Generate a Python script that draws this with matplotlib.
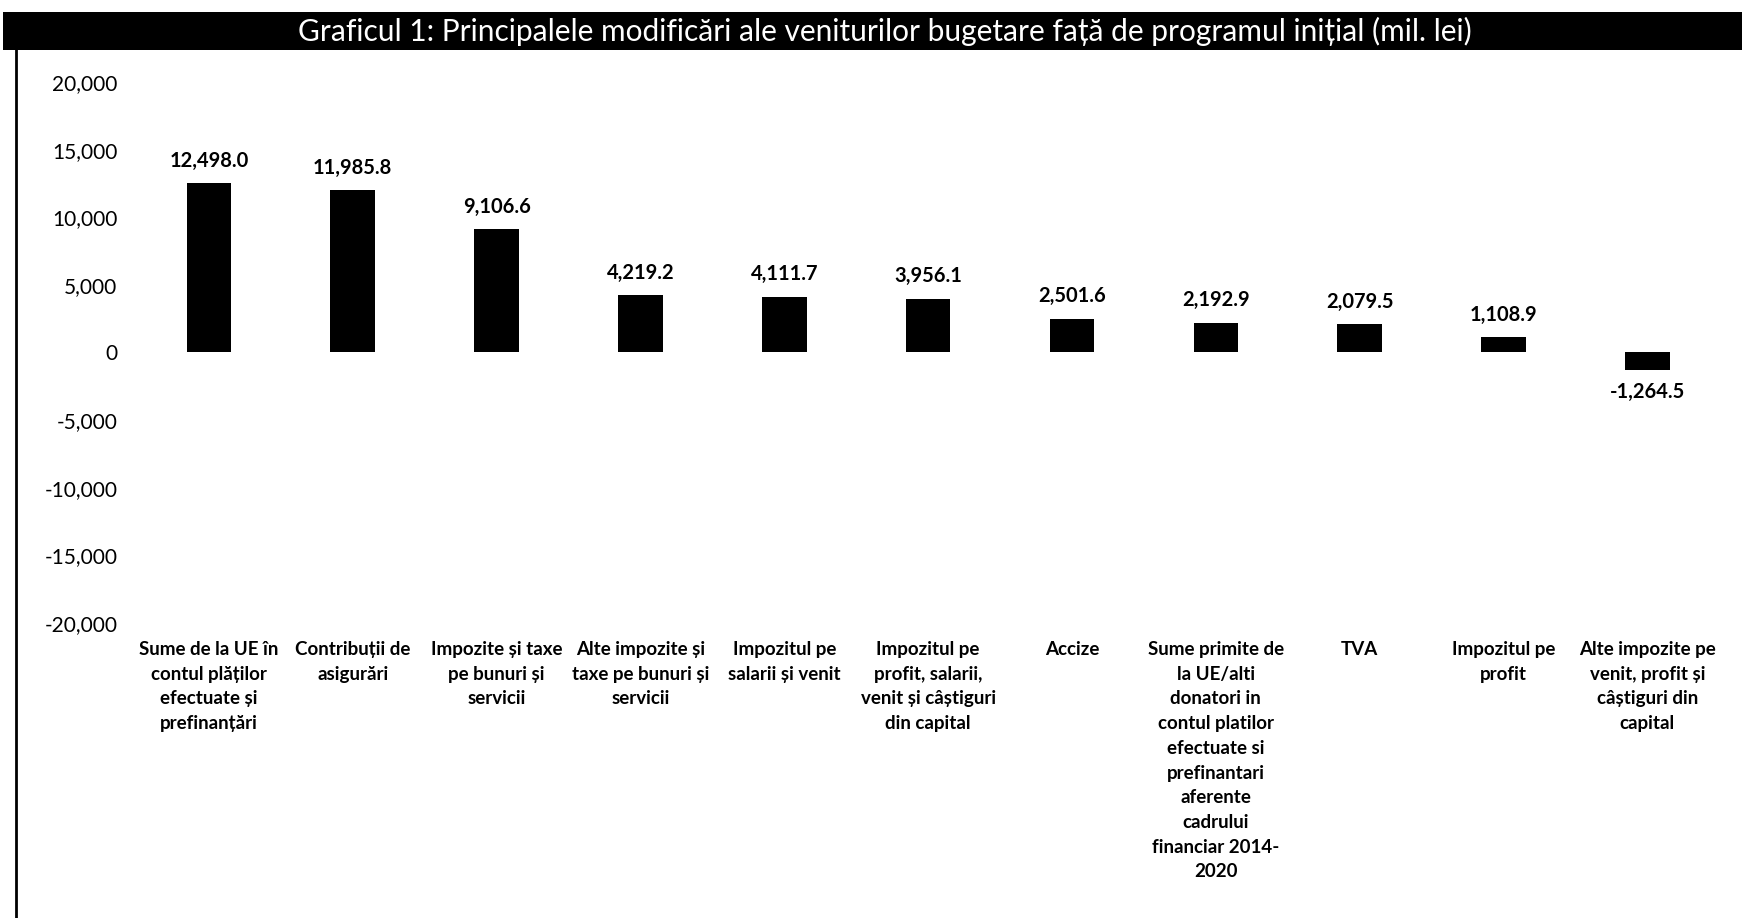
import matplotlib
matplotlib.use("Agg")
import matplotlib.pyplot as plt
from matplotlib.patches import Rectangle
from matplotlib.lines import Line2D
from matplotlib.ticker import FuncFormatter

plt.rcParams['font.family'] = ['Lato', 'DejaVu Sans']

categories = [
    "Sume de la UE în\ncontul plăților\nefectuate și\nprefinanțări",
    "Contribuții de\nasigurări",
    "Impozite și taxe\npe bunuri și\nservicii",
    "Alte impozite și\ntaxe pe bunuri și\nservicii",
    "Impozitul pe\nsalarii și venit",
    "Impozitul pe\nprofit, salarii,\nvenit și câștiguri\ndin capital",
    "Accize",
    "Sume primite de\nla UE/alti\ndonatori in\ncontul platilor\nefectuate si\nprefinantari\naferente\ncadrului\nfinanciar 2014-\n2020",
    "TVA",
    "Impozitul pe\nprofit",
    "Alte impozite pe\nvenit, profit și\ncâștiguri din\ncapital",
]
values = [12498.0, 11985.8, 9106.6, 4219.2, 4111.7, 3956.1, 2501.6, 2192.9, 2079.5, 1108.9, -1264.5]
yticks = [-20000, -15000, -10000, -5000, 0, 5000, 10000, 15000, 20000]
title = "Graficul 1: Principalele modificări ale veniturilor bugetare față de programul inițial (mil. lei)"

fig = plt.figure(figsize=(17.42, 9.18), dpi=100)
ax = fig.add_axes([0.0786, 0.3214, 0.9084, 0.5893])

x = list(range(len(values)))
ax.bar(x, values, width=0.31, color='black')

for xi, v in zip(x, values):
    txt = f"{v:,.1f}"
    if v >= 0:
        ax.annotate(txt, (xi, v), xytext=(0, 9), textcoords='offset points',
                    ha='center', va='bottom', fontsize=14.5, fontweight='bold')
    else:
        ax.annotate(txt, (xi, v), xytext=(0, -9), textcoords='offset points',
                    ha='center', va='top', fontsize=14.5, fontweight='bold')

ax.set_xlim(-0.5, len(values) - 0.5)
ax.set_ylim(-20000, 20000)
ax.set_yticks(yticks)
ax.yaxis.set_major_formatter(FuncFormatter(lambda v, p: f"{v:,.0f}"))
ax.tick_params(axis='y', length=0, labelsize=15, pad=14)
ax.set_xticks(x)
ax.set_xticklabels(categories, fontsize=13.5, fontweight='bold', linespacing=1.55)
ax.tick_params(axis='x', length=0, pad=13)
for s in ax.spines.values():
    s.set_visible(False)

# title bar
fig.patches.append(Rectangle((0.002, 1 - 50 / 918), 0.998, 38 / 918, transform=fig.transFigure,
                             facecolor='black', edgecolor='none'))
fig.text(0.508, 1 - 31 / 918, title, color='white', fontsize=21.5, ha='center', va='center')
# left frame line
fig.lines.append(Line2D([0.0092, 0.0092], [0, 1 - 50 / 918], transform=fig.transFigure,
                        color='black', linewidth=2))

fig.savefig("out.png", dpi=100, facecolor='white')
